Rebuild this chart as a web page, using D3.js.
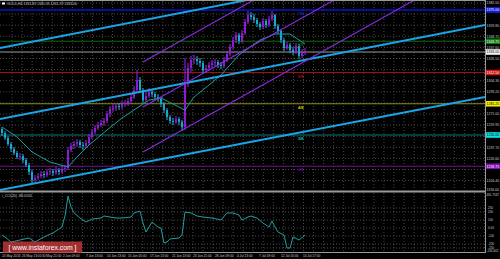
<!DOCTYPE html>
<html>
<head>
<meta charset="utf-8">
<script src="https://cdn.jsdelivr.net/npm/d3@7"></script>
<style>
body{margin:0;background:#000;}
svg{display:block;}
text{font-family:"Liberation Sans",Arial,sans-serif;}
</style>
</head>
<body>
<div id="chart"></div>
<script>
// GOLD H4 candles (one entry per bar), open = previous close
const firstOpen = 1256;
const closes = [1252,1247,1241,1236,1232,1228,1229,1225,1220,1213,1205,1207,1209,1211,1210,1213,1214,1212,1215,1213,
  1216,1217,1235,1239,1241,1243,1240,1239,1242,1248,1253,1257,1260,1262,1264,1271,1276,1277,1279,1278,
  1281,1282,1284,1288,1295,1305,1295,1285,1289,1293,1291,1288,1286,1281,1275,1268,1264,1263,1266,1263,
  1258,1303,1317,1325,1326,1324,1322,1315,1317,1320,1322,1323,1320,1319,1325,1331,1338,1345,1350,1344,
  1352,1363,1370,1368,1365,1361,1358,1364,1360,1366,1370,1359,1354,1345,1337,1340,1335,1333,1339,1329,
  1333,1333];
const highs = [1258,1254,1249,1243,1238,1234,1232,1231,1227,1222,1215,1210,1212,1214,1214,1216,1217,1216,1218,1217,
  1219,1220,1238,1242,1244,1246,1245,1243,1245,1251,1256,1260,1263,1265,1267,1274,1279,1281,1282,1282,
  1284,1285,1287,1291,1299,1315,1308,1297,1293,1297,1296,1293,1291,1288,1283,1277,1270,1267,1269,1268,
  1265,1327,1322,1329,1330,1329,1327,1324,1320,1323,1325,1326,1325,1323,1328,1334,1341,1348,1353,1352,
  1355,1366,1374,1373,1371,1367,1363,1367,1366,1369,1374,1371,1361,1356,1347,1343,1342,1338,1342,1341,
  1336,1337];
const lows = [1249,1245,1239,1233,1230,1226,1225,1222,1218,1210,1201,1203,1205,1207,1207,1208,1210,1209,1210,1210,
  1211,1213,1215,1233,1236,1238,1237,1235,1237,1240,1246,1251,1255,1258,1259,1262,1268,1273,1274,1275,
  1276,1278,1279,1281,1286,1292,1292,1282,1283,1287,1288,1285,1283,1278,1272,1265,1261,1260,1261,1260,
  1254,1255,1298,1313,1321,1320,1318,1312,1312,1314,1317,1319,1317,1316,1317,1323,1329,1336,1342,1341,
  1342,1350,1361,1365,1362,1358,1355,1356,1357,1358,1364,1356,1351,1342,1334,1335,1332,1330,1331,1326,
  1327,1330];

// moving average, read at bar indexes
const maIdx = [0,5,10,16,22,25,29,35,40,45,49,53,57,61,64,69,73,79,86,91,96,101];
const maVal = [1258,1248,1233,1223,1218,1228,1240,1255,1267,1277,1285,1287,1281,1275,1288,1300,1310,1330,1345,1351,1351,1341];

// CCI, read at bar indexes
const cciIdx = [0,1,3,6,9,11,14,17,20,21,22,23,24,26,28,30,33,34,36,38,40,43,44,46,47,48,50,52,53,54,55,56,59,60,
  61,63,65,67,70,73,75,77,79,80,82,83,85,87,89,90,91,92,94,95,96,97,99,101];
const cciVal = [-88,-112,-175,-150,-125,-175,-112,-62,12,150,400,262,188,125,75,112,125,150,137,125,125,137,188,212,62,-50,75,12,0,-188,-175,-137,-125,-88,
  200,188,150,137,125,100,188,188,162,100,137,150,125,62,12,88,12,-50,-88,-250,-250,-112,-150,-88];

// axis ticks
const priceTicks = [1382.0,1370.9,1359.8,1348.7,1337.6,1326.5,1315.4,1304.3,1293.2,1282.1,1271.0,1259.9,1248.8,1237.7,1226.6,1215.5,1204.4];
const cciTicks = [250,200,100,0,-100,-200,-250];
const timeLabels = ["24 May 2016","26 May 13:00","30 May 21:00","2 Jun 09:00","7 Jun 13:00","10 Jun 13:00","15 Jun 05:00",
  "17 Jun 13:00","21 Jun 13:00","23 Jun 21:00","28 Jun 09:00","4 Jul 13:00","7 Jul 09:00","12 Jul 05:00","14 Jul 17:00"];
const timePos = [0,6.7,13.3,20.3,28,35,42,49.3,56.7,63.7,71,78.3,85.7,93,100.3];

// Murrey levels + current price
const levelNames = ["7/8","6/8","5/8","4/8","3/8","2/8"];
const levelPrices = [1375.00,1343.75,1312.50,1281.25,1250.00,1218.75];
const lastPrice = 1333.00;

// trend lines: [bar1, price1, bar2, price2]
const cyanLines = [[-0.67,1337.0,81.67,1385.0],[-0.67,1266.0,161,1360.0],[-0.67,1195.0,161,1288.0]];
const violetLines = [[47,1323,161,1514.5],[47,1278,161,1469.5],[47,1233,161,1424.5]];

const cciNow = "-88.0134";
const title = "GOLD,H4  1331.83 1335.35 1331.29 1333.00";

// ---- styles
const levelStroke = ["#0a14c8","#0b6b0b","#a01010","#8c8c14","#0b7474","#6c1090"];
const levelBox = ["#1420e0","#0e7a0e","#d01414","#f0f000","#10e0e0","#8010b0"];
const levelBoxText = ["#fff","#fff","#fff","#000","#000","#fff"];

const W = 500, H = 259, plotR = 485, mainB = 191, cciT = 193, cciB = 252;
const fs = 3.5;

const svg = d3.select("#chart").append("svg").attr("width", W).attr("height", H);
svg.append("rect").attr("width", W).attr("height", H).attr("fill", "#000");

const x = d3.scaleLinear().domain([0, 101]).range([2, 305]);
const y = d3.scaleLinear().domain([1385 - mainB, 1385]).range([mainB, 0]);
const yc = d3.scaleLinear().domain([-250, 250]).range([248, 208]);

const defs = svg.append("defs");
defs.append("clipPath").attr("id", "mainClip").append("rect").attr("x", 0).attr("y", 0).attr("width", plotR).attr("height", mainB);
defs.append("clipPath").attr("id", "cciClip").append("rect").attr("x", 0).attr("y", cciT).attr("width", plotR).attr("height", cciB - cciT);

// grid
const grid = svg.append("g").attr("stroke", "#5a5a5a").attr("stroke-dasharray", "1,2").attr("stroke-width", 0.8);
const vStep = (x(timePos[1]) - x(timePos[0])) / 2;
for (let gx = x(0) + vStep; gx < plotR; gx += vStep) {
  grid.append("line").attr("x1", gx).attr("x2", gx).attr("y1", 1).attr("y2", mainB - 1);
  grid.append("line").attr("x1", gx).attr("x2", gx).attr("y1", cciT).attr("y2", cciB);
}
grid.selectAll(".hp").data(priceTicks).enter().append("line")
  .attr("x1", 0).attr("x2", plotR).attr("y1", d => y(d)).attr("y2", d => y(d));
grid.selectAll(".hc").data(cciTicks).enter().append("line")
  .attr("x1", 0).attr("x2", plotR).attr("y1", d => yc(d)).attr("y2", d => yc(d));

const main = svg.append("g").attr("clip-path", "url(#mainClip)");

// horizontal levels
main.selectAll(".lvl").data(levelPrices).enter().append("line")
  .attr("x1", 0).attr("x2", plotR).attr("y1", d => y(d)).attr("y2", d => y(d))
  .attr("stroke", (d, i) => levelStroke[i]).attr("stroke-width", (d, i) => i === 0 ? 1.6 : 1.1);
main.append("line").attr("x1", 0).attr("x2", plotR).attr("y1", y(lastPrice)).attr("y2", y(lastPrice))
  .attr("stroke", "#9a9a9a").attr("stroke-width", 1);

// candles
const candles = closes.map((c, i) => ({i: i, o: i === 0 ? firstOpen : closes[i - 1], c: c, h: highs[i], l: lows[i]}));
const cg = main.append("g");
cg.selectAll(".wick").data(candles).enter().append("line")
  .attr("x1", d => x(d.i)).attr("x2", d => x(d.i))
  .attr("y1", d => y(d.h)).attr("y2", d => y(d.l))
  .attr("stroke", d => d.c >= d.o ? "#a024f0" : "#1cb4e0").attr("stroke-width", 1);
cg.selectAll(".body").data(candles).enter().append("rect")
  .attr("x", d => x(d.i) - 1).attr("width", 2)
  .attr("y", d => y(Math.max(d.o, d.c)))
  .attr("height", d => Math.max(1, Math.abs(y(d.o) - y(d.c))))
  .attr("fill", d => d.c >= d.o ? "#8e1ad8" : "#17a6d2");

// MA
main.append("path").datum(maIdx.map((d, i) => [d, maVal[i]]))
  .attr("d", d3.line().x(d => x(d[0])).y(d => y(d[1])))
  .attr("fill", "none").attr("stroke", "#1d9c9c").attr("stroke-width", 1);

// trend lines
main.selectAll(".cy").data(cyanLines).enter().append("line")
  .attr("x1", d => x(d[0])).attr("y1", d => y(d[1])).attr("x2", d => x(d[2])).attr("y2", d => y(d[3]))
  .attr("stroke", "#1aa6e6").attr("stroke-width", 1.8);
main.selectAll(".vi").data(violetLines).enter().append("line")
  .attr("x1", d => x(d[0])).attr("y1", d => y(d[1])).attr("x2", d => x(d[2])).attr("y2", d => y(d[3]))
  .attr("stroke", "#8a2be2").attr("stroke-width", 1.1);

// level names
main.selectAll(".ln").data(levelPrices).enter().append("text")
  .attr("x", 298).attr("y", d => y(d) + 5)
  .attr("font-size", 4).attr("font-weight", "bold")
  .attr("fill", (d, i) => levelBox[i]).attr("opacity", 0.85)
  .text((d, i) => levelNames[i]);

// CCI
const cci = svg.append("g").attr("clip-path", "url(#cciClip)");
cci.append("path").datum(cciIdx.map((d, i) => [d, cciVal[i]]))
  .attr("d", d3.line().x(d => x(d[0])).y(d => yc(d[1])))
  .attr("fill", "none").attr("stroke", "#1f9f9f").attr("stroke-width", 1);

// frames
const frame = svg.append("g").attr("stroke", "#9a9a9a");
frame.append("line").attr("x1", 0).attr("x2", plotR).attr("y1", 0.5).attr("y2", 0.5);
frame.append("line").attr("x1", 0).attr("x2", plotR).attr("y1", mainB + 0.5).attr("y2", mainB + 0.5).attr("stroke-width", 2);
frame.append("line").attr("x1", 0).attr("x2", plotR).attr("y1", cciB + 0.5).attr("y2", cciB + 0.5);
frame.append("line").attr("x1", plotR + 0.5).attr("x2", plotR + 0.5).attr("y1", 0).attr("y2", cciB + 1);

// right price axis (labels hidden behind a price box are skipped)
const boxYs = levelPrices.concat([lastPrice]).map(p => y(p));
const freeTicks = priceTicks.filter(t => boxYs.every(b => Math.abs(y(t) - b) > 4.5));
const axisG = svg.append("g").attr("font-size", fs).attr("fill", "#c8c8c8");
axisG.selectAll(".pt").data(freeTicks).enter().append("text")
  .attr("x", plotR + 1.5).attr("y", d => y(d) + 1.3).text(d => d.toFixed(2));
axisG.append("text").attr("x", plotR + 1.5).attr("y", mainB - 0.5).text("1194.00");
axisG.selectAll(".ct").data(cciTicks).enter().append("text")
  .attr("x", plotR + 3).attr("y", d => yc(d) + 1.2).attr("font-size", 3)
  .text(d => d === 0 ? "0.00" : d);
axisG.append("text").attr("x", plotR + 1.5).attr("y", cciT + 3.2).attr("font-size", 3).text("461.7567");
axisG.append("text").attr("x", plotR + 1.5).attr("y", cciB - 0.3).attr("font-size", 3).text("-245.602");

// price boxes
const boxes = svg.append("g");
levelPrices.forEach((p, i) => {
  boxes.append("rect").attr("x", plotR + 1).attr("y", y(p) - 2.8).attr("width", W - plotR - 1).attr("height", 5.6).attr("fill", levelBox[i]);
  boxes.append("text").attr("x", plotR + 1.5).attr("y", y(p) + 1.3).attr("font-size", fs).attr("fill", levelBoxText[i]).text(p.toFixed(2));
});
boxes.append("rect").attr("x", plotR + 1).attr("y", y(lastPrice) - 2.8).attr("width", W - plotR - 1).attr("height", 5.6).attr("fill", "#f4f4f4");
boxes.append("text").attr("x", plotR + 1.5).attr("y", y(lastPrice) + 1.3).attr("font-size", fs).attr("fill", "#000").text(lastPrice.toFixed(2));

// time axis
svg.append("g").attr("font-size", 3.2).attr("fill", "#c8c8c8")
  .selectAll("text").data(timeLabels).enter().append("text")
  .attr("x", (d, i) => x(timePos[i])).attr("y", 257).text(d => d);

// titles
svg.append("rect").attr("x", 2).attr("y", 2.5).attr("width", 3).attr("height", 2).attr("fill", "#fff");
svg.append("text").attr("x", 7).attr("y", 5.2).attr("font-size", fs).attr("fill", "#c8c8c8").text(title);
svg.append("text").attr("x", 2).attr("y", 197.3).attr("font-size", fs).attr("fill", "#c8c8c8").text("i_CCI(20) " + cciNow);

// watermark
svg.append("rect").attr("x", 3).attr("y", 241.5).attr("width", 79).attr("height", 11.5).attr("fill", "#c83a3c").attr("opacity", 0.8);
svg.append("text").attr("x", 42.5).attr("y", 249.8).attr("text-anchor", "middle").attr("font-size", 6.8)
  .attr("fill", "#fff").text("[  www.instaforex.com  ]");
</script>
</body>
</html>
